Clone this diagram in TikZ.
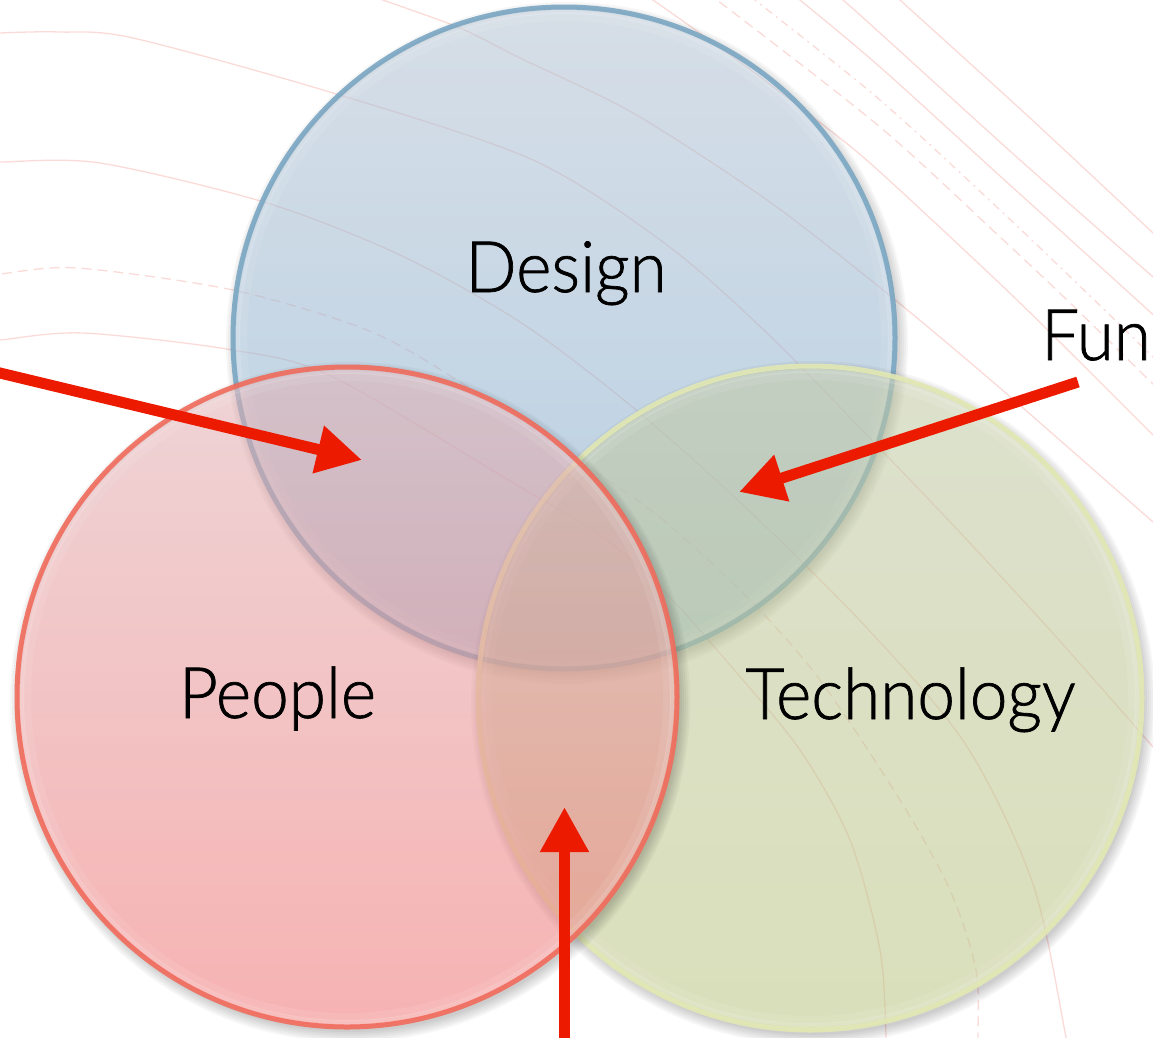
\documentclass[tikz,border=0pt]{standalone}
\usepackage{fontspec}
\setmainfont{Carlito}
\IfFontExistsTF{Lato Light}
  {\newfontfamily\lblfont[FakeStretch=0.95, FakeBold=1]{Lato Light}\def\lblsize{71}}
  {\newfontfamily\lblfont[FakeStretch=0.93]{Carlito}\def\lblsize{79}}
\usetikzlibrary{arrows.meta}
\definecolor{ripplecol}{RGB}{232,90,75}
\definecolor{arrowred}{RGB}{236,27,0}
\definecolor{dTop}{RGB}{180,195,210}
\definecolor{dBot}{RGB}{124,168,204}
\definecolor{dLine}{RGB}{123,167,195}
\definecolor{pTop}{RGB}{224,177,181}
\definecolor{pBot}{RGB}{240,115,115}
\definecolor{pLine}{RGB}{240,108,92}
\definecolor{tTop}{RGB}{193,200,164}
\definecolor{tBot}{RGB}{186,197,130}
\definecolor{tLine}{RGB}{226,232,180}
\tikzset{
  ripple/.style={draw=ripplecol, draw opacity=0.22, line width=1.3pt},
  rippledash/.style={ripple, dash pattern=on 10pt off 6pt},
  rippledashdot/.style={ripple, dash pattern=on 8pt off 5pt on 2pt off 5pt},
  venn/.style={circle, inner sep=0pt, minimum size=#1, line width=5pt, fill opacity=0.55, draw opacity=0.9},
  shadowring/.style={fill=black, fill opacity=0.035, even odd rule},
  glowa/.style={draw=white, draw opacity=0.16, line width=4pt},
  glowb/.style={draw=white, draw opacity=0.08, line width=8pt},
  lbl/.style={font=\lblfont\fontsize{\lblsize}{90}\selectfont, inner sep=0pt, text=black},
  redarrow/.style={draw=arrowred, line width=11pt, -{Triangle[length=45pt, width=46pt]}},
}
\begin{document}
\begin{tikzpicture}[x=1pt,y=-1pt]
\useasboundingbox (0,0) rectangle (1153,1037);
\clip (0,0) rectangle (1153,1037);

% background ripples
\draw[ripple] plot[smooth, tension=0.5] coordinates {(300,-30) (383,0) (460,28) (520,58) (633,113) (767,200) (883,290) (1000,388) (1153,522) (1180,546)};
\draw[ripple] plot[smooth, tension=0.5] coordinates {(-30,36) (0,33) (60,32) (133,38) (333,93) (533,160) (667,245) (767,333) (860,428) (953,525) (1050,630) (1153,747) (1180,780)};
\draw[ripple] plot[smooth, tension=0.5] coordinates {(-30,163) (0,162) (100,163) (267,203) (400,255) (520,322) (630,405) (743,505) (866,627) (966,745) (1033,884) (1066,1037) (1072,1070)};
\draw[rippledash] plot[smooth, tension=0.5] coordinates {(-30,277) (0,274) (77,268) (233,290) (367,330) (457,380) (597,473) (663,520) (750,600) (820,680) (900,800) (950,890) (976,970) (978,1037) (978,1070)};
\draw[ripple] plot[smooth, tension=0.5] coordinates {(-30,342) (0,340) (83,333) (233,350) (333,377) (520,487) (600,535) (663,590) (730,665) (800,750) (850,840) (880,950) (886,1037) (886,1070)};
\draw[ripple] plot[smooth, tension=0.5] coordinates {(870,-28) (900,0) (1030,118) (1153,233) (1180,259)};
\draw[ripple] plot[smooth, tension=0.5] coordinates {(810,-28) (843,0) (880,33) (1020,160) (1153,277) (1180,302)};
\draw[ripple] plot[smooth, tension=0.5] coordinates {(765,-28) (800,0) (880,67) (1000,176) (1137,300) (1180,340)};
\draw[rippledashdot] plot[smooth, tension=0.5] coordinates {(718,-28) (755,0) (880,100) (1000,210) (1087,293) (1153,357) (1180,383)};
\draw[rippledash] plot[smooth, tension=0.5] coordinates {(680,-26) (717,0) (880,127) (1000,237) (1067,300) (1153,384) (1180,410)};
\draw[ripple] plot[smooth, tension=0.5] coordinates {(615,-25) (653,0) (740,62) (827,128) (880,172) (1017,300) (1153,435) (1180,462)};

% centres
\coordinate (cD) at (564,338);
\coordinate (cT) at (810,698);
\coordinate (cP) at (347,697);

% Design
\foreach \k in {0,2,4,6,8,10} {\fill[shadowring] ([shift={(3,5)}]cD) circle ({331+\k}) (cD) circle (331);}
\node[venn=662pt, draw=dLine, top color=dTop, bottom color=dBot] (design) at (cD) {};
\draw[glowa] (cD) circle (326);
\draw[glowb] (cD) circle (321);

% Technology
\foreach \k in {0,2,4,6,8,10} {\fill[shadowring] ([shift={(3,5)}]cT) circle ({332+\k}) (cT) circle (332);}
\node[venn=664pt, draw=tLine, top color=tTop, bottom color=tBot] (tech) at (cT) {};
\draw[glowa] (cT) circle (327);
\draw[glowb] (cT) circle (322);

% People
\foreach \k in {0,2,4,6,8,10} {\fill[shadowring] ([shift={(3,5)}]cP) circle ({330+\k}) (cP) circle (330);}
\node[venn=660pt, draw=pLine, top color=pTop, bottom color=pBot] (people) at (cP) {};
\draw[glowa] (cP) circle (325);
\draw[glowb] (cP) circle (320);

% labels
\node[lbl, anchor=base] (tD) at (566,292) {Design};
\node[lbl, anchor=base] (tP) at (277.5,718) {People};
\node[lbl, anchor=base] (tTe) at (910.5,719) {Technology};
\node[lbl, anchor=base west] (tF) at (1041,360) {Fun};

% arrows
\coordinate (a1s) at (-20,368.2);
\coordinate (a1e) at (362,460);
\coordinate (a2s) at (1078,382);
\coordinate (a2e) at (739,492);
\coordinate (a3s) at (564.5,1050);
\coordinate (a3e) at (564.5,807);
\draw[redarrow] (a1s) -- (a1e);
\draw[redarrow] (a2s) -- (a2e);
\draw[redarrow] (a3s) -- (a3e);
\end{tikzpicture}
\end{document}
